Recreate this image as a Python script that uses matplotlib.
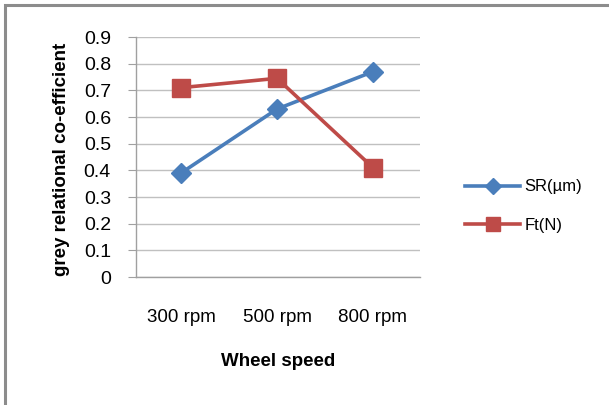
import matplotlib
matplotlib.use("Agg")
import matplotlib.pyplot as plt
from matplotlib.patches import Rectangle

categories = ["300 rpm", "500 rpm", "800 rpm"]
sr_values = [0.39, 0.63, 0.77]
ft_values = [0.71, 0.745, 0.41]
yticks = [0, 0.1, 0.2, 0.3, 0.4, 0.5, 0.6, 0.7, 0.8, 0.9]
ytick_labels = ["0", "0.1", "0.2", "0.3", "0.4", "0.5", "0.6", "0.7", "0.8", "0.9"]

fam = ["Liberation Sans Narrow", "Liberation Sans", "DejaVu Sans"]
W, H = 609, 405
fig = plt.figure(figsize=(W / 100, H / 100), dpi=100)
fig.patch.set_facecolor("white")

# outer frame
fig.add_artist(Rectangle((5 / W, -0.1), 1.2, 1 - 5 / H + 0.1, transform=fig.transFigure,
                         fill=False, edgecolor="#8c8c8c", linewidth=2.2))

ax = fig.add_axes([136 / W, 1 - 277 / H, (420 - 136) / W, (277 - 37) / H])
x = list(range(len(categories)))
blue = "#4a7ebb"
red = "#be4b48"
ax.plot(x, sr_values, color=blue, linewidth=2.6, marker="D", markersize=10.5,
        label="SR(µm)", zorder=3)
ax.plot(x, ft_values, color=red, linewidth=2.6, marker="s", markersize=13,
        label="Ft(N)", zorder=3)

ax.set_xlim(-0.47, 2.49)
ax.set_ylim(0, 0.9)
ax.set_yticks(yticks)
ax.set_yticklabels(ytick_labels, family=fam, fontsize=14)
ax.set_xticks(x)
ax.set_xticklabels(categories, family=fam, fontsize=13.5)
ax.tick_params(axis="x", length=0, pad=23)
ax.tick_params(axis="y", length=6, color="#a0a0a0", pad=12)
ax.grid(axis="y", color="#c0c0c0", linewidth=1)
ax.set_axisbelow(True)
for s in ["top", "right"]:
    ax.spines[s].set_visible(False)
for s in ["left", "bottom"]:
    ax.spines[s].set_color("#a0a0a0")
    ax.spines[s].set_linewidth(1)

fig.text(61 / W, 1 - 159 / H, "grey relational co-efficient", rotation=90,
         ha="center", va="center", fontsize=13.5, fontweight="bold", family=fam)
fig.text(278 / W, 1 - 362 / H, "Wheel speed", ha="center", va="center",
         fontsize=13.5, fontweight="bold", family=fam)

leg = fig.legend(loc="center left", bbox_to_anchor=(450 / W, 1 - 206 / H),
                 frameon=False, prop={"family": fam, "size": 12},
                 handlelength=3.3, labelspacing=1.4, handletextpad=0.25,
                 markerscale=0.75)

fig.savefig("out.png", dpi=100)
